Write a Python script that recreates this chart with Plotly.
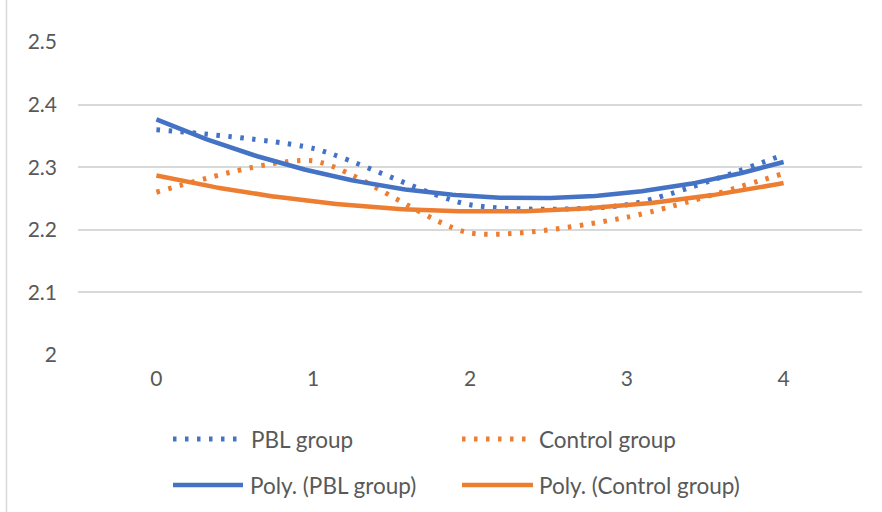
import numpy as np
import plotly.graph_objects as go

# ---- data ----
time_points = [0, 1, 2, 3, 4]
pbl_group = [2.36, 2.33, 2.24, 2.24, 2.32]
control_group = [2.26, 2.31, 2.195, 2.22, 2.29]
y_ticks = [2.0, 2.1, 2.2, 2.3, 2.4, 2.5]
y_tick_labels = ["2", "2.1", "2.2", "2.3", "2.4", "2.5"]
series_names = ["PBL group", "Control group"]
trend_names = ["Poly. (PBL group)", "Poly. (Control group)"]

BLUE = "#4472C4"
ORANGE = "#ED7D31"
GRID = "#D9D9D9"
TEXT = "#595959"
FONT = "Lato, 'Open Sans', sans-serif"

W, H = 882, 512
L, R, T, B = 78, 20, 42, 157
PW, PH = W - L - R, H - T - B

def xp(px):
    return (px - L) / PW

def yp(py):
    return (H - B - py) / PH

# polynomial (order 2) trendlines fitted to the data, like Excel's
xs = np.linspace(time_points[0], time_points[-1], 200)
pbl_fit = np.polyval(np.polyfit(time_points, pbl_group, 2), xs)
ctl_fit = np.polyval(np.polyfit(time_points, control_group, 2), xs)

DOT = "3.5px,8.5px"

fig = go.Figure()
fig.add_trace(go.Scatter(x=time_points, y=pbl_group, mode="lines", name=series_names[0],
                         line=dict(color=BLUE, width=5, dash=DOT, shape="spline", smoothing=0.7)))
fig.add_trace(go.Scatter(x=time_points, y=control_group, mode="lines", name=series_names[1],
                         line=dict(color=ORANGE, width=5, dash=DOT, shape="spline", smoothing=0.7)))
fig.add_trace(go.Scatter(x=xs, y=pbl_fit, mode="lines", name=trend_names[0],
                         line=dict(color=BLUE, width=4.5)))
fig.add_trace(go.Scatter(x=xs, y=ctl_fit, mode="lines", name=trend_names[1],
                         line=dict(color=ORANGE, width=4.5)))

# manual legend (Excel style: long samples, two columns)
legend_items = [
    (series_names[0], BLUE, DOT, 173, 238, 249, 439),
    (series_names[1], ORANGE, DOT, 462, 527, 537, 439),
    (trend_names[0], BLUE, None, 173, 243, 248, 485),
    (trend_names[1], ORANGE, None, 462, 533, 537, 485),
]
shapes = [
    dict(type="line", xref="paper", yref="paper", x0=xp(6.5), x1=xp(6.5), y0=yp(0), y1=yp(H),
         line=dict(color=GRID, width=1.5)),
]
annotations = []
for name, col, dash, x0, x1, tx, y in legend_items:
    shapes.append(dict(type="line", xref="paper", yref="paper", x0=xp(x0), x1=xp(x1),
                       y0=yp(y), y1=yp(y),
                       line=dict(color=col, width=5 if dash else 4.5, dash=dash if dash else "solid")))
    annotations.append(dict(text=name, xref="paper", yref="paper", x=xp(tx), y=yp(y),
                            xanchor="left", yanchor="middle", showarrow=False,
                            font=dict(family=FONT, size=22.5, color=TEXT)))

fig.update_layout(
    width=W, height=H,
    margin=dict(l=L, r=R, t=T, b=B),
    paper_bgcolor="white", plot_bgcolor="white",
    showlegend=False,
    shapes=shapes, annotations=annotations,
    font=dict(family=FONT, size=21, color=TEXT),
)
fig.update_xaxes(range=[-0.5, 4.5], tickvals=time_points, ticktext=[str(t) for t in time_points],
                 showgrid=False, zeroline=False, showline=False, ticks="",
                 ticklabelstandoff=9, tickfont=dict(size=21, color=TEXT, family=FONT), fixedrange=True)
fig.update_yaxes(range=[2.0, 2.5], tickvals=y_ticks, ticktext=y_tick_labels,
                 showgrid=True, gridcolor=GRID, gridwidth=1.5, zeroline=False, showline=False,
                 ticks="", ticklabelstandoff=20, tickfont=dict(size=21, color=TEXT, family=FONT),
                 fixedrange=True)

fig.write_html("out.html")
